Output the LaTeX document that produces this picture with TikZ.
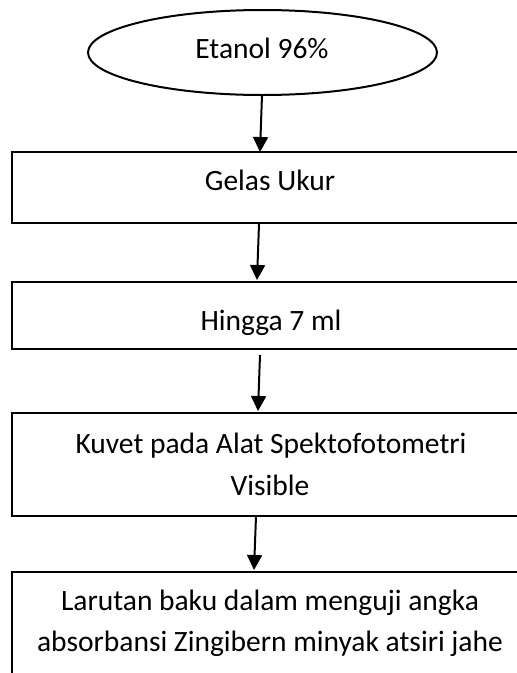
\documentclass[tikz,border=0pt]{standalone}
\usepackage{fontspec}
\setmainfont{Carlito}
\usetikzlibrary{arrows.meta,shapes.geometric}
\begin{document}
\begin{tikzpicture}[x=1pt,y=-1pt,
  font=\fontsize{29.5}{42}\selectfont,
  frame/.style={draw=black,line width=2pt,inner sep=0pt,outer sep=0pt,
    minimum width=540pt},
  lbl/.style={anchor=base,inner sep=0pt,align=center},
  arr/.style={draw=black,line width=2pt,-{Triangle[length=15pt,width=15pt]}}]
\useasboundingbox (0,0) rectangle (517,673);
\begin{scope}
\clip (0,0) rectangle (517,673);
% start node
\node[draw=black,line width=2pt,ellipse,inner sep=0pt,outer sep=0pt,
  minimum width=349pt,minimum height=85pt] (e) at (262.5,52.5) {};
\node[lbl] (te) at (262,58.3) {Etanol 96\%};
% process boxes, running past the right edge
\node[frame,minimum height=71pt]  (b1) at (282,187.5) {};
\node[frame,minimum height=67pt]  (b2) at (282,315.5) {};
\node[frame,minimum height=103pt] (b3) at (282,464.5) {};
\node[frame,minimum height=128pt] (b4) at (282,636) {};
\node[lbl] (t1) at (270,190.7) {Gelas Ukur};
\node[lbl] (t2) at (271,330) {Hingga 7 ml};
\node[lbl] (t3a) at (271,453) {Kuvet pada Alat Spektofotometri};
\node[lbl] (t3b) at (270,495) {Visible};
\node[lbl] (t4a) at (270,610.7) {Larutan baku dalam menguji angka};
\node[lbl] (t4b) at (270,651.7) {absorbansi Zingibern minyak atsiri jahe};
% connectors
\draw[arr] ([xshift=-0.5pt]e.south) -- ([xshift=-22pt]b1.north);
\draw[arr] ([xshift=-23pt,yshift=-1pt]b1.south) -- ([xshift=-25pt,yshift=2pt]b2.north);
\draw[arr] ([xshift=-22pt,yshift=-6pt]b2.south) -- ([xshift=-24pt,yshift=2pt]b3.north);
\draw[arr] ([xshift=-26pt]b3.south) -- ([xshift=-28pt,yshift=2pt]b4.north);
\end{scope}
\end{tikzpicture}
\end{document}
